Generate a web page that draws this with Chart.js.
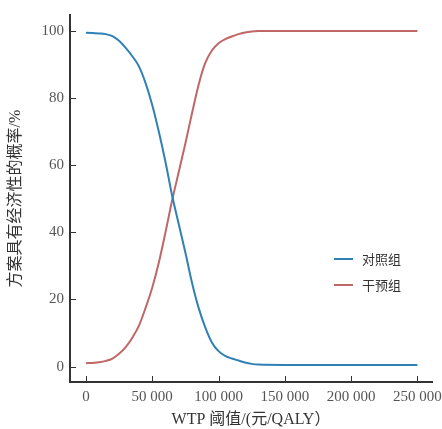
<!DOCTYPE html>
<html>
<head>
<meta charset="utf-8">
<script src="https://cdn.jsdelivr.net/npm/chart.js@4/dist/chart.umd.min.js"></script>
<style>
  html, body { margin: 0; padding: 0; background: #fff; }
  #wrap { width: 442px; height: 429px; }
</style>
</head>
<body>
<div id="wrap"><canvas id="ceac"></canvas></div>
<script>
// WTP 阈值 (元/QALY)
const wtp = [0, 5000, 10000, 15000, 20000, 25000, 30000, 35000, 40000, 45000, 50000,
  55000, 60000, 65000, 70000, 75000, 80000, 85000, 90000, 95000, 100000,
  105000, 110000, 115000, 120000, 125000, 130000, 150000, 200000, 250000];

// 对照组 概率 (%)
const controlProb = [99.5, 99.4, 99.3, 99.1, 98.5, 97.1, 95.0, 92.5, 89.5, 84.5, 78.0,
  70.0, 61.0, 51.0, 42.5, 34.0, 25.0, 17.5, 11.7, 7.2, 4.6,
  3.2, 2.4, 1.8, 1.2, 0.8, 0.6, 0.5, 0.5, 0.5];

// 干预组 概率 (%)
const interventionProb = [1.0, 1.1, 1.3, 1.7, 2.4, 3.8, 5.8, 8.6, 12.2, 17.5, 23.5,
  31.0, 40.0, 49.5, 58.0, 66.5, 75.5, 84.0, 90.5, 94.2, 96.4,
  97.6, 98.4, 99.1, 99.6, 99.9, 100, 100, 100, 100];

const xTicks = [0, 50000, 100000, 150000, 200000, 250000];
const yTicks = [0, 20, 40, 60, 80, 100];

const seriesNames = ['对照组', '干预组'];
const seriesColors = ['#2f80b4', '#c06766'];

const serif = '"Liberation Serif", "Noto Sans CJK SC", serif';
const axisColor = '#333';

const fmtSpace = (v) => String(v).replace(/\B(?=(\d{3})+(?!\d))/g, ' ');
const toPoints = (arr) => arr.map((y, i) => ({ x: wtp[i], y }));

// tick marks point into the plot area
const innerTicks = {
  id: 'innerTicks',
  afterDraw(chart) {
    const { ctx, chartArea, scales } = chart;
    const len = 6;
    ctx.save();
    ctx.strokeStyle = axisColor;
    ctx.lineWidth = 1;
    ctx.beginPath();
    xTicks.forEach(v => {
      const x = Math.round(scales.x.getPixelForValue(v)) + 0.5;
      ctx.moveTo(x, chartArea.bottom);
      ctx.lineTo(x, chartArea.bottom - len);
    });
    yTicks.forEach(v => {
      const y = Math.round(scales.y.getPixelForValue(v)) + 0.5;
      ctx.moveTo(chartArea.left, y);
      ctx.lineTo(chartArea.left + len, y);
    });
    ctx.stroke();
    ctx.restore();
  }
};

// legend drawn inside the plot, lower right
const innerLegend = {
  id: 'innerLegend',
  afterDraw(chart) {
    const ctx = chart.ctx;
    const x0 = 334, y0 = 259, gap = 26;
    ctx.save();
    ctx.font = '13px "Noto Sans CJK SC", sans-serif';
    ctx.textBaseline = 'middle';
    seriesNames.forEach((name, i) => {
      const y = y0 + i * gap;
      ctx.strokeStyle = seriesColors[i];
      ctx.lineWidth = 2;
      ctx.beginPath();
      ctx.moveTo(x0, y);
      ctx.lineTo(x0 + 19, y);
      ctx.stroke();
      ctx.fillStyle = '#333';
      ctx.fillText(name, x0 + 28, y);
    });
    ctx.restore();
  }
};

new Chart(document.getElementById('ceac'), {
  type: 'line',
  data: {
    datasets: [
      { label: seriesNames[0], data: toPoints(controlProb), borderColor: seriesColors[0], borderWidth: 2, pointRadius: 0, cubicInterpolationMode: 'monotone', fill: false },
      { label: seriesNames[1], data: toPoints(interventionProb), borderColor: seriesColors[1], borderWidth: 2, pointRadius: 0, cubicInterpolationMode: 'monotone', fill: false }
    ]
  },
  options: {
    responsive: true,
    maintainAspectRatio: false,
    animation: false,
    layout: { padding: { top: 15, right: 10, left: 0, bottom: 0 } },
    plugins: { legend: { display: false }, tooltip: { enabled: false } },
    scales: {
      x: {
        type: 'linear',
        min: -12000,
        max: 261000,
        afterBuildTicks: (s) => { s.ticks = xTicks.map(v => ({ value: v })); },
        afterFit: (s) => { s.height = 47; s.paddingLeft = 0; s.paddingRight = 0; },
        border: { display: true, color: axisColor, width: 2 },
        grid: { display: true, drawOnChartArea: false, drawTicks: false },
        ticks: { color: '#555', font: { family: serif, size: 15 }, padding: 6, maxRotation: 0, callback: (v) => fmtSpace(v) },
        title: { display: true, text: 'WTP 阈值/(元/QALY）', color: '#333', font: { family: serif, size: 16 }, padding: { top: 0, bottom: 0 } }
      },
      y: {
        min: -4.6,
        max: 104.8,
        afterBuildTicks: (s) => { s.ticks = yTicks.map(v => ({ value: v })); },
        afterFit: (s) => { s.width = 70; },
        border: { display: true, color: axisColor, width: 2 },
        grid: { display: true, drawOnChartArea: false, drawTicks: false },
        ticks: { color: '#555', font: { family: serif, size: 15 }, padding: 6 },
        title: { display: true, text: '方案具有经济性的概率/%', color: '#333', font: { family: serif, size: 16 }, padding: { top: 6, bottom: 0 } }
      }
    }
  },
  plugins: [innerTicks, innerLegend]
});
</script>
</body>
</html>
